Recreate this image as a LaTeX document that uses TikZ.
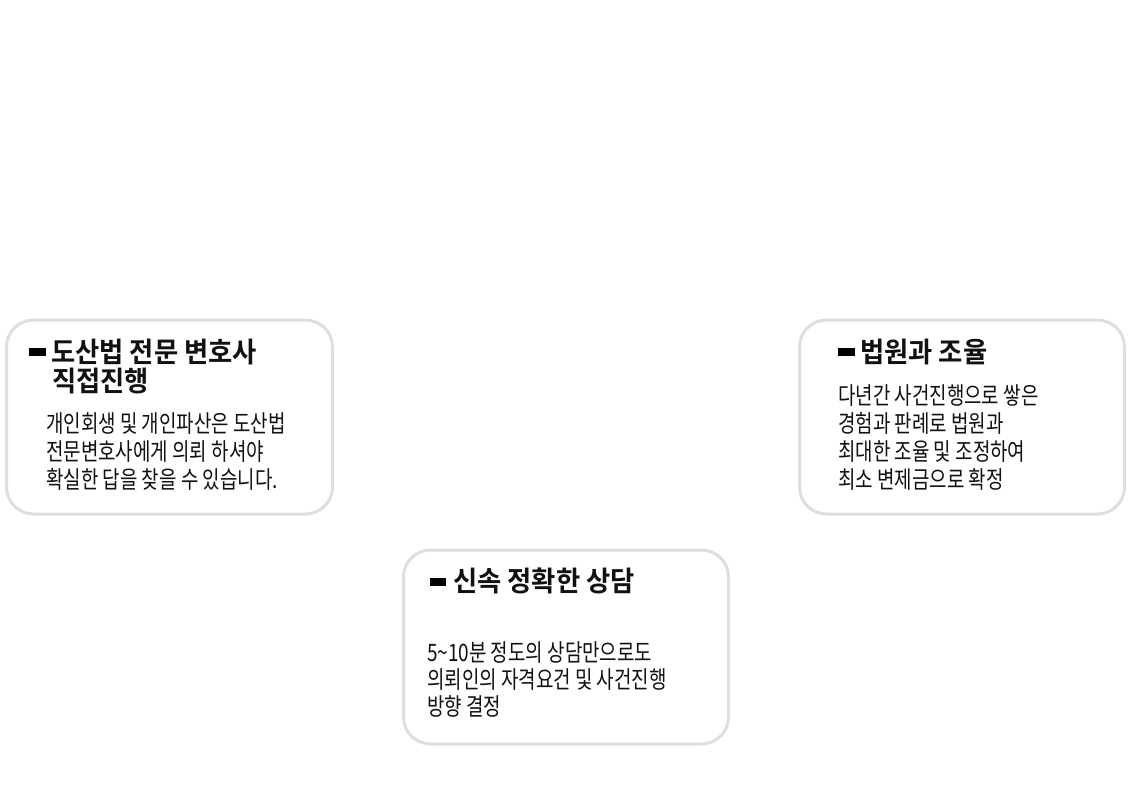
\documentclass[tikz,border=0pt]{standalone}
\usepackage{fontspec}
\newfontfamily\krbody{Noto Sans CJK KR}[FakeStretch=0.79]
\newfontfamily\krtitle{Noto Sans CJK KR Bold}[FakeStretch=0.94]
\definecolor{boxline}{HTML}{DEDEDE}
\definecolor{ink}{HTML}{111111}
\begin{document}
\begin{tikzpicture}[x=1pt,y=-1pt,
  card/.style={draw=boxline,line width=3pt,rounded corners=27pt},
  marker/.style={fill=black,draw=none},
  ttl/.style={anchor=base west,inner sep=0pt,text=ink,font=\krtitle\fontsize{28}{29}\selectfont},
  body/.style={anchor=base west,inner sep=0pt,text=ink,font=\krbody\fontsize{24}{28}\selectfont}]
\useasboundingbox (0,0) rectangle (1130,800);
\fill[white] (0,0) rectangle (1130,800);
% cards
\draw[card] (6.5,320) rectangle (332.5,514);
\draw[card] (799.5,320) rectangle (1124.5,514);
\draw[card] (403.5,550) rectangle (728.5,744);
% box 1
\fill[marker] (29,347.5) rectangle (45.5,355.5);
\node[ttl] (t1a) at (51,362.5) {도산법 전문 변호사};
\node[ttl] (t1b) at (52,391.5) {직접진행};
\node[body] (b1a) at (46,432) {개인회생 및 개인파산은 도산법};
\node[body] (b1b) at (46,460) {전문변호사에게 의뢰 하셔야};
\node[body] (b1c) at (46,488) {확실한 답을 찾을 수 있습니다.};
% box 2
\fill[marker] (838,347.5) rectangle (855,355.5);
\node[ttl] (t2a) at (860,362.5) {법원과 조율};
\node[body] (b2a) at (838,404) {다년간 사건진행으로 쌓은};
\node[body] (b2b) at (838,432) {경험과 판례로 법원과};
\node[body] (b2c) at (838,460) {최대한 조율 및 조정하여};
\node[body] (b2d) at (838,488) {최소 변제금으로 확정};
% box 3
\fill[marker] (429.5,577.5) rectangle (446,585.5);
\node[ttl] (t3a) at (453,591) {신속 정확한 상담};
\node[body] (b3a) at (427,661) {5\textasciitilde10분 정도의 상담만으로도};
\node[body] (b3b) at (427,688) {의뢰인의 자격요건 및 사건진행};
\node[body] (b3c) at (427,715) {방향 결정};
\end{tikzpicture}
\end{document}
